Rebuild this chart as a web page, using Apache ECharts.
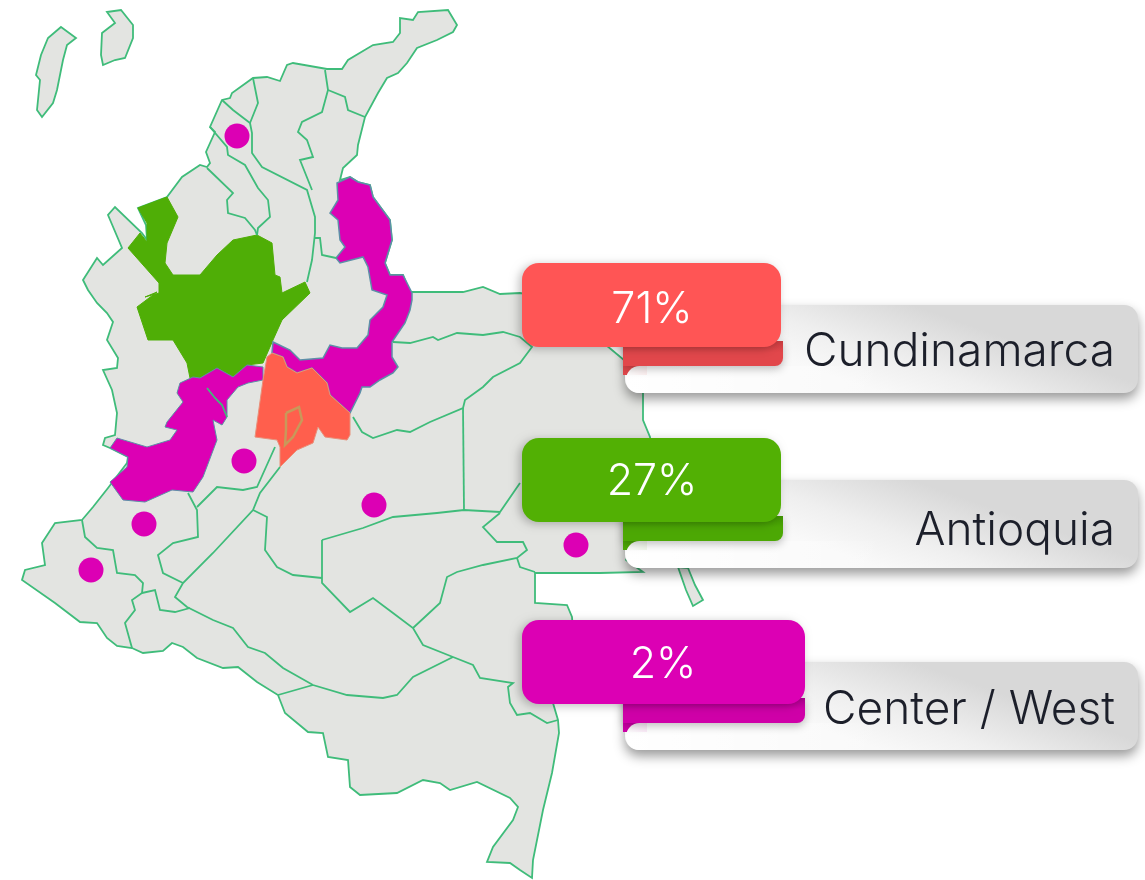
<!DOCTYPE html>
<html>
<head>
<meta charset="utf-8">
<title>Colombia</title>
<script src="https://cdn.jsdelivr.net/npm/echarts@6/dist/echarts.min.js"></script>
<style>
html, body { margin: 0; padding: 0; background: #fff; }
#chartmainMap { width: 1145px; height: 880px; }
</style>
</head>
<body>
<div id="chartmainMap"></div>
<script>
// callout values
var shareNames = ['Cundinamarca', 'Antioquia', 'Center / West'];
var shareValues = [71, 27, 2];

// map shapes, in map units (x east, y south)
var countryOutline = [[83,280],[97,258],[103,265],[122,248],[108,215],[115,207],[142,233],[147,240],[146,225],[138,208],[167,197],[182,177],[200,165],[207,167],[210,163],[206,152],[215,132],[210,127],[222,100],[230,98],[232,93],[253,78],[267,77],[280,81],[287,65],[293,63],[327,69],[342,69],[348,60],[373,45],[393,42],[400,33],[400,18],[413,20],[418,12],[448,10],[457,25],[453,32],[437,40],[417,48],[407,63],[398,73],[387,78],[378,93],[365,117],[358,145],[357,155],[343,168],[340,180],[350,177],[358,182],[370,185],[373,197],[390,220],[392,240],[385,263],[390,275],[403,275],[410,292],[463,292],[483,287],[500,294],[520,293],[560,300],[600,340],[630,365],[643,393],[643,420],[650,437],[655,480],[640,530],[626,560],[643,572],[600,573],[535,573],[535,603],[567,605],[572,617],[575,660],[553,703],[558,720],[559,733],[552,773],[543,810],[533,860],[532,878],[520,870],[510,863],[487,862],[493,847],[513,820],[518,807],[510,798],[477,782],[450,790],[440,783],[423,780],[397,793],[360,795],[350,787],[348,760],[328,757],[323,733],[308,732],[285,713],[278,695],[257,682],[238,667],[223,668],[197,658],[183,647],[172,643],[163,651],[143,653],[132,648],[117,646],[107,638],[97,623],[80,622],[55,603],[22,580],[25,570],[45,565],[42,543],[55,523],[82,520],[93,507],[108,488],[127,463],[128,457],[110,448],[103,445],[105,438],[115,435],[117,413],[112,390],[103,370],[117,368],[118,358],[107,340],[113,322],[107,313],[97,303],[88,290]];
var islandWest = [[61,27],[76,38],[67,45],[63,60],[57,90],[53,103],[42,117],[37,110],[40,80],[36,75],[41,55],[48,38]];
var islandNorth = [[107,12],[121,10],[133,25],[133,38],[125,58],[115,60],[103,65],[101,55],[102,33],[115,23]];
var islandEast = [[678,567],[688,568],[695,585],[703,600],[693,606],[686,590]];
var antioquiaShape = [[138,208],[167,197],[178,217],[167,243],[165,263],[173,275],[200,275],[217,255],[233,240],[257,235],[272,243],[275,275],[280,277],[282,293],[305,282],[310,293],[282,320],[273,340],[263,363],[247,365],[233,377],[217,368],[200,378],[190,378],[187,363],[173,340],[148,340],[137,307],[157,292],[145,297],[159,293],[159,283],[128,248],[140,233],[147,242],[147,223]];
var centerEastShape = [[350,177],[358,182],[370,185],[373,197],[390,220],[392,240],[385,263],[390,275],[403,275],[412,293],[412,300],[410,310],[405,323],[392,342],[392,357],[398,367],[393,373],[380,380],[370,387],[362,387],[360,393],[350,413],[330,395],[327,383],[312,368],[297,373],[287,367],[283,357],[272,353],[273,342],[290,350],[300,360],[323,358],[330,345],[342,348],[357,348],[368,335],[370,320],[383,307],[387,295],[372,290],[368,267],[363,257],[340,263],[336,258],[345,247],[340,240],[338,220],[330,213],[338,200],[337,183]];
var centerWestShape = [[263,367],[263,380],[248,383],[238,387],[227,400],[227,417],[222,425],[213,420],[217,440],[203,477],[193,492],[172,490],[145,502],[123,500],[110,482],[127,467],[128,457],[110,448],[117,438],[147,447],[170,440],[177,430],[165,427],[167,422],[183,402],[177,393],[180,383],[193,377],[200,378],[217,368],[233,377],[247,365]];
var cundinamarcaShape = [[267,357],[272,353],[283,357],[287,367],[297,373],[312,368],[327,383],[330,395],[350,413],[350,435],[347,440],[325,437],[318,427],[313,443],[297,450],[280,467],[280,447],[277,440],[255,437],[263,380]];

// department borders, in map units
var borderLines = [
    [[253,78],[258,103],[250,123],[252,133],[252,153],[262,167],[307,190],[315,217],[315,233],[312,260],[307,282]],
    [[222,100],[233,110],[250,123]],
    [[210,127],[227,147],[228,155],[245,165],[258,188],[268,200],[270,217],[258,228],[257,235]],
    [[207,168],[233,193],[227,200],[228,213],[245,218],[255,230],[257,235]],
    [[325,70],[328,90],[322,112],[302,122],[298,132],[307,140],[313,157],[300,160],[312,190]],
    [[328,90],[345,97],[348,110],[365,117]],
    [[315,238],[320,238],[322,255],[336,258]],
    [[393,342],[410,343],[433,337],[438,340],[457,333],[483,335],[503,332],[520,337],[532,347],[520,363],[493,377],[483,387],[465,400],[463,408],[430,422],[410,432],[397,430],[373,438],[362,432],[353,417]],
    [[463,408],[464,510]],
    [[322,540],[363,528],[393,517],[437,513],[464,510],[500,512],[520,483]],
    [[500,513],[483,527],[497,542],[523,542],[527,550],[517,558],[483,565],[457,572],[447,577],[440,603],[413,628]],
    [[517,558],[520,567],[535,572]],
    [[322,540],[322,583],[350,612],[373,598],[393,613],[413,628],[423,645],[453,657],[473,665],[480,678],[513,683],[508,687],[510,703],[517,715],[530,713],[547,723],[558,720]],
    [[453,657],[413,677],[397,695],[383,698],[347,695],[313,685],[283,668],[265,653],[248,647],[233,628],[213,620],[187,607],[175,597],[183,583],[213,553],[253,510],[260,493],[280,467]],
    [[313,685],[278,695]],
    [[253,510],[267,517],[265,550],[277,567],[293,575],[322,578]],
    [[188,493],[197,510],[198,537],[173,543],[158,555],[163,573],[183,583]],
    [[197,507],[217,487],[243,490],[257,487],[275,447]],
    [[82,520],[85,537],[97,548],[113,550],[117,573],[135,575],[143,583],[142,593],[132,600],[135,610],[125,623],[132,648]],
    [[142,593],[155,590],[160,610],[175,612],[190,608]],
    [[207,388],[215,398],[222,405],[227,417]]
];
var bogotaLine = [[286,413],[299,407],[302,420],[293,437],[285,445],[286,430],[286,413]];

var dotPoints = [[237,136],[244,461],[144,524],[91,570],[374,505],[576,545]];

var MAP_GRAY = '#e3e4e1';
var BORDER_GREEN = '#3fbc7a';
var ANTIOQUIA_GREEN = '#4fae06';
var CENTER_MAGENTA = '#dc00b4';
var MAP_RED = '#ff5f4d';
var LABEL_FONT = 'Inter, sans-serif';

function toRing(points) {
    // latitude goes up, the picture goes down
    return points.map(function (p) {
        return [p[0], -p[1]];
    });
}

function regionFeature(name, rings) {
    return {
        type: 'Feature',
        properties: { name: name },
        geometry: {
            type: 'MultiPolygon',
            coordinates: rings.map(function (r) {
                return [toRing(r)];
            })
        }
    };
}

echarts.registerMap('colombia', {
    type: 'FeatureCollection',
    features: [
        regionFeature('Colombia', [countryOutline, islandWest, islandNorth, islandEast]),
        regionFeature('Antioquia', [antioquiaShape]),
        regionFeature('CenterEast', [centerEastShape]),
        regionFeature('CenterWest', [centerWestShape]),
        regionFeature('Cundinamarca', [cundinamarcaShape])
    ]
});

// ribbon with fold, one per callout
var calloutStyles = [
    { top: 263, right: 781, head: '#ff5555', fold: '#e2474b', foldDark: '#c93c40', foldEnd: 783, valueX: 652, valueY: 310, nameY: 352 },
    { top: 438, right: 781, head: '#52b004', fold: '#4ca804', foldDark: '#3f9302', foldEnd: 783, valueX: 652, valueY: 482, nameY: 531 },
    { top: 620, right: 805, head: '#dc00b4', fold: '#cf00a8', foldDark: '#ab008c', foldEnd: 805, valueX: 663, valueY: 665, nameY: 710 }
];

function buildCallout(i) {
    var s = calloutStyles[i];
    var top = s.top;
    var els = [];
    els.push({
        type: 'rect', z: 10,
        shape: { x: 625, y: top + 42, width: 513, height: 88, r: 14 },
        style: {
            fill: new echarts.graphic.LinearGradient(0.5, 1, 0.56, 0, [
                { offset: 0, color: '#f9f9f9' },
                { offset: 0.4, color: '#efefef' },
                { offset: 1, color: '#d8d8d8' }
            ]),
            shadowBlur: 12, shadowColor: 'rgba(0,0,0,0.4)', shadowOffsetY: 6
        }
    });
    // curl showing round the white band's corner
    els.push({
        type: 'rect', z: 11,
        shape: { x: 623, y: top + 84, width: 24, height: 28 },
        style: { fill: s.fold }
    });
    els.push({
        type: 'rect', z: 12,
        shape: { x: 626, y: top + 103, width: 260, height: 27, r: [14, 0, 0, 14] },
        style: {
            fill: new echarts.graphic.LinearGradient(0, 0, 1, 0, [
                { offset: 0, color: '#ffffff' },
                { offset: 1, color: 'rgba(255,255,255,0)' }
            ])
        }
    });
    els.push({
        type: 'rect', z: 13,
        shape: { x: 623, y: top + 78, width: s.foldEnd - 623, height: 25, r: [0, 0, 8, 0] },
        style: {
            fill: new echarts.graphic.LinearGradient(0, 0, 0, 1, [
                { offset: 0, color: s.foldDark },
                { offset: 0.45, color: s.fold },
                { offset: 1, color: s.fold }
            ]),
            shadowBlur: 8, shadowColor: 'rgba(0,0,0,0.25)', shadowOffsetY: 3
        }
    });
    els.push({
        type: 'rect', z: 14,
        shape: { x: 522, y: top, width: s.right - 522, height: 84, r: 17 },
        style: {
            fill: s.head,
            shadowBlur: 10, shadowColor: 'rgba(0,0,0,0.25)', shadowOffsetX: -3, shadowOffsetY: 2
        }
    });
    els.push({
        type: 'text', z: 15,
        x: s.valueX, y: s.valueY,
        style: {
            text: shareValues[i] + '%',
            font: '300 43px ' + LABEL_FONT,
            fill: '#fff', align: 'center', verticalAlign: 'middle'
        }
    });
    els.push({
        type: 'text', z: 15,
        x: 1115, y: s.nameY,
        style: {
            text: shareNames[i],
            font: '300 46px ' + LABEL_FONT,
            fill: '#1c1f2a', align: 'right', verticalAlign: 'middle'
        }
    });
    return els;
}

var calloutElements = [];
for (var i = 0; i < shareNames.length; i++) {
    calloutElements = calloutElements.concat(buildCallout(i));
}

var lineData = borderLines.map(function (l) {
    return { coords: toRing(l) };
});
lineData.push({
    coords: toRing(bogotaLine),
    lineStyle: { color: '#c9985a', width: 2.5 }
});

var option = {
    animation: false,
    backgroundColor: '#fff',
    geo: {
        map: 'colombia',
        silent: true,
        roam: false,
        aspectScale: 1,
        boundingCoords: [[0, 0], [1145, -880]],
        left: 0,
        top: 0,
        width: 1145,
        height: 880,
        label: { show: false },
        itemStyle: { areaColor: MAP_GRAY, borderColor: BORDER_GREEN, borderWidth: 1.8 },
        regions: [
            { name: 'Antioquia', itemStyle: { areaColor: ANTIOQUIA_GREEN, borderColor: ANTIOQUIA_GREEN, borderWidth: 1 } },
            { name: 'CenterEast', itemStyle: { areaColor: CENTER_MAGENTA, borderColor: '#5d8fa8', borderWidth: 1.5 } },
            { name: 'CenterWest', itemStyle: { areaColor: CENTER_MAGENTA, borderColor: '#5d8fa8', borderWidth: 1 } },
            { name: 'Cundinamarca', itemStyle: { areaColor: MAP_RED, borderColor: '#e8907a', borderWidth: 1 } }
        ]
    },
    series: [{
        type: 'lines',
        coordinateSystem: 'geo',
        polyline: true,
        silent: true,
        z: 2,
        lineStyle: { color: BORDER_GREEN, width: 1.8, opacity: 1 },
        data: lineData
    }, {
        type: 'scatter',
        coordinateSystem: 'geo',
        silent: true,
        z: 3,
        symbol: 'circle',
        symbolSize: 25,
        itemStyle: { color: CENTER_MAGENTA, opacity: 1 },
        data: toRing(dotPoints)
    }],
    graphic: { elements: calloutElements }
};

var myChart = echarts.init(document.getElementById('chartmainMap'));
myChart.setOption(option);
</script>
</body>
</html>
